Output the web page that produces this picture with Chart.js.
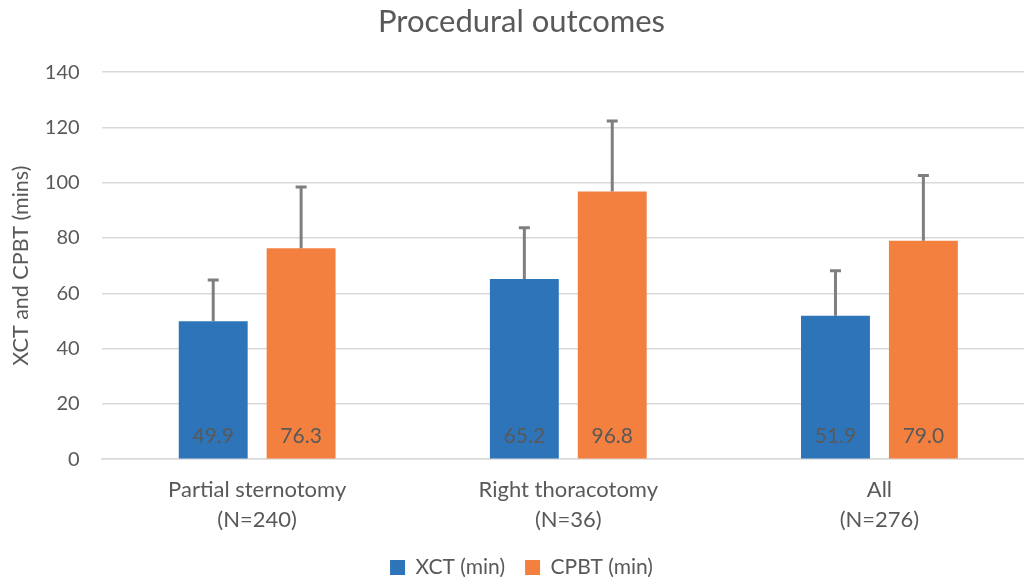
<!DOCTYPE html>
<html>
<head>
<meta charset="utf-8">
<script src="https://cdn.jsdelivr.net/npm/chart.js@4/dist/chart.umd.min.js"></script>
<style>
html,body{margin:0;padding:0;background:#fff;overflow:hidden;width:1024px;height:577px;}
#wrap{width:1035px;height:588px;}
</style>
</head>
<body>
<div id="wrap"><canvas id="c" width="1035" height="588"></canvas></div>
<script>
const categories = [["Partial sternotomy","(N=240)"],["Right thoracotomy","(N=36)"],["All","(N=276)"]];
const seriesNames = ["XCT (min)","CPBT (min)"];
const xctMeans = [49.9, 65.2, 51.9];
const cpbtMeans = [76.3, 96.8, 79.0];
const xctSD = [14.9, 18.5, 16.3];
const cpbtSD = [22.2, 25.5, 23.6];
const yTicks = [0,20,40,60,80,100,120,140];

const FONT = "Lato, 'Open Sans', sans-serif";
const GREY = "#595959";

const errorBars = {
  id: 'errorBars',
  afterDatasetsDraw(chart) {
    const ctx = chart.ctx;
    const y = chart.scales.y;
    chart.data.datasets.forEach((ds, di) => {
      const meta = chart.getDatasetMeta(di);
      meta.data.forEach((el, i) => {
        const v = ds.data[i], sd = ds.sd[i];
        const top = y.getPixelForValue(v + sd);
        ctx.save();
        ctx.strokeStyle = '#7f7f7f';
        ctx.lineWidth = 3;
        ctx.beginPath();
        ctx.moveTo(el.x, el.y);
        ctx.lineTo(el.x, top);
        ctx.moveTo(el.x - 5.5, top);
        ctx.lineTo(el.x + 5.5, top);
        ctx.stroke();
        ctx.restore();
      });
    });
  }
};

const valueLabels = {
  id: 'valueLabels',
  afterDatasetsDraw(chart) {
    const ctx = chart.ctx;
    const y = chart.scales.y;
    chart.data.datasets.forEach((ds, di) => {
      const meta = chart.getDatasetMeta(di);
      meta.data.forEach((el, i) => {
        ctx.save();
        ctx.fillStyle = GREY;
        ctx.font = "21px " + FONT;
        ctx.textAlign = 'center';
        ctx.textBaseline = 'middle';
        ctx.fillText(ds.data[i].toFixed(1), el.x, y.getPixelForValue(0) - 23);
        ctx.restore();
      });
    });
  }
};

new Chart(document.getElementById('c'), {
  type: 'bar',
  data: {
    labels: categories,
    datasets: [
      { label: seriesNames[0], data: xctMeans, sd: xctSD, backgroundColor: '#2E74B8', borderColor: '#2E74B8', borderWidth: 0,
        categoryPercentage: 0.565, barPercentage: 0.784 },
      { label: seriesNames[1], data: cpbtMeans, sd: cpbtSD, backgroundColor: '#F4803F', borderColor: '#F4803F', borderWidth: 0,
        categoryPercentage: 0.565, barPercentage: 0.784 }
    ]
  },
  options: {
    responsive: false,
    devicePixelRatio: 1,
    animation: false,
    layout: { padding: { top: 1, left: 8, right: 0, bottom: 0 } },
    plugins: {
      title: { display: true, text: 'Procedural outcomes', color: GREY, font: { family: FONT, size: 31, weight: 'normal' }, padding: { top: 2, bottom: 32 } },
      legend: { position: 'bottom', labels: { color: GREY, font: { family: FONT, size: 21 }, boxWidth: 15, boxHeight: 15, padding: 20 } },
      tooltip: { enabled: false }
    },
    scales: {
      x: {
        afterFit(axis) { axis.height -= 14; },
        grid: { display: false, drawTicks: false },
        border: { display: true, color: '#d9d9d9', width: 1.5 },
        ticks: { color: GREY, font: { family: FONT, size: 22, lineHeight: 1.36 }, padding: 16, maxRotation: 0 }
      },
      y: {
        min: 0, max: 140,
        afterFit(axis) { axis.width -= 19; },
        afterBuildTicks(axis) { axis.ticks = yTicks.map(v => ({ value: v })); },
        grid: { color: '#d9d9d9', lineWidth: 1.5, drawTicks: false },
        border: { display: false },
        ticks: { color: GREY, font: { family: FONT, size: 20 }, padding: 22 },
        title: { display: true, text: 'XCT and CPBT (mins)', color: GREY, font: { family: FONT, size: 21.5 }, padding: { top: 0, bottom: 8 } }
      }
    }
  },
  plugins: [errorBars, valueLabels]
});
</script>
</body>
</html>
